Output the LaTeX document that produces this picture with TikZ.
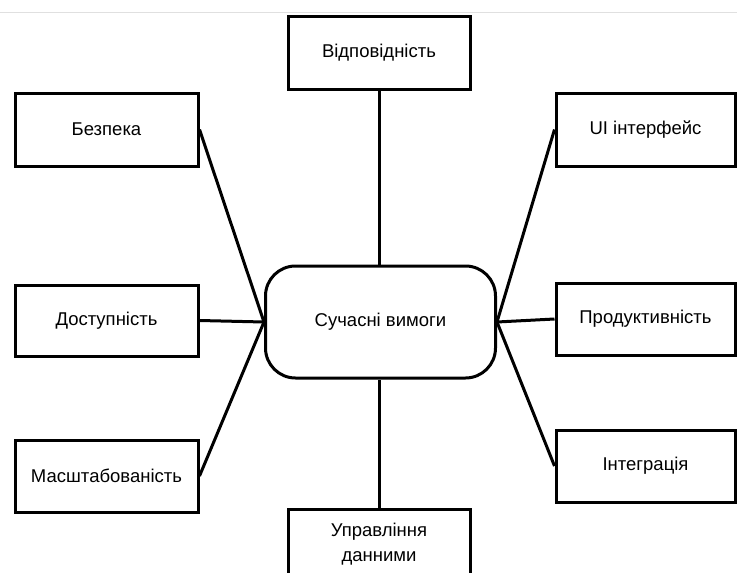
\documentclass[tikz,border=0pt]{standalone}
\usepackage{fontspec}
\setmainfont{Liberation Sans}
\begin{document}
\begin{tikzpicture}[x=1pt,y=-1pt,
  leaf/.style={draw=black,line width=3pt,fill=white,minimum width=183pt,minimum height=73pt,inner sep=0pt,font=\fontsize{18.5}{25}\selectfont,align=center},
  hub/.style={draw=black,line width=3pt,fill=white,rounded corners=30pt,minimum width=230pt,minimum height=112pt,inner sep=0pt,font=\fontsize{18.5}{25}\selectfont},
  link/.style={line width=3pt,black}]
\useasboundingbox (0,0) rectangle (737,573);
\clip (0,0) rectangle (737,573);
% thin rule across the top
\draw[line width=1pt,black!12] (0,12) -- (737,12);
% central requirement
\node[hub] (core) at (380.5,322) {Сучасні вимоги};
% surrounding aspects
\node[leaf,minimum width=182pt] (vid) at (379,52.5) {Відповідність};
\node[leaf] (bez) at (106.5,129.5) {Безпека};
\node[leaf,minimum width=179pt] (ui) at (645.5,129.5) {UI інтерфейс};
\node[leaf,minimum height=71pt] (dost) at (106.5,320.5) {Доступність};
\node[leaf,minimum width=179pt,minimum height=72pt] (prod) at (645.5,319) {Продуктивність};
\node[leaf,minimum height=72pt] (masht) at (106.5,476) {Масштабованість};
\node[leaf,minimum width=179pt,minimum height=72pt] (integ) at (645.5,466) {Інтеграція};
\node[leaf,minimum width=182pt,minimum height=70pt] (data) at (379,544) {Управління\\данними};
% connectors
\draw[link] (vid.south) -- (vid.south |- core.north);
\draw[link] (data.north) -- (data.north |- core.south);
\draw[link] (bez.east) -- (core.west);
\draw[link] (dost.east) -- (core.west);
\draw[link] (masht.east) -- (core.west);
\draw[link] (ui.west) -- (core.east);
\draw[link] (prod.west) -- (core.east);
\draw[link] (integ.west) -- (core.east);
\end{tikzpicture}
\end{document}
